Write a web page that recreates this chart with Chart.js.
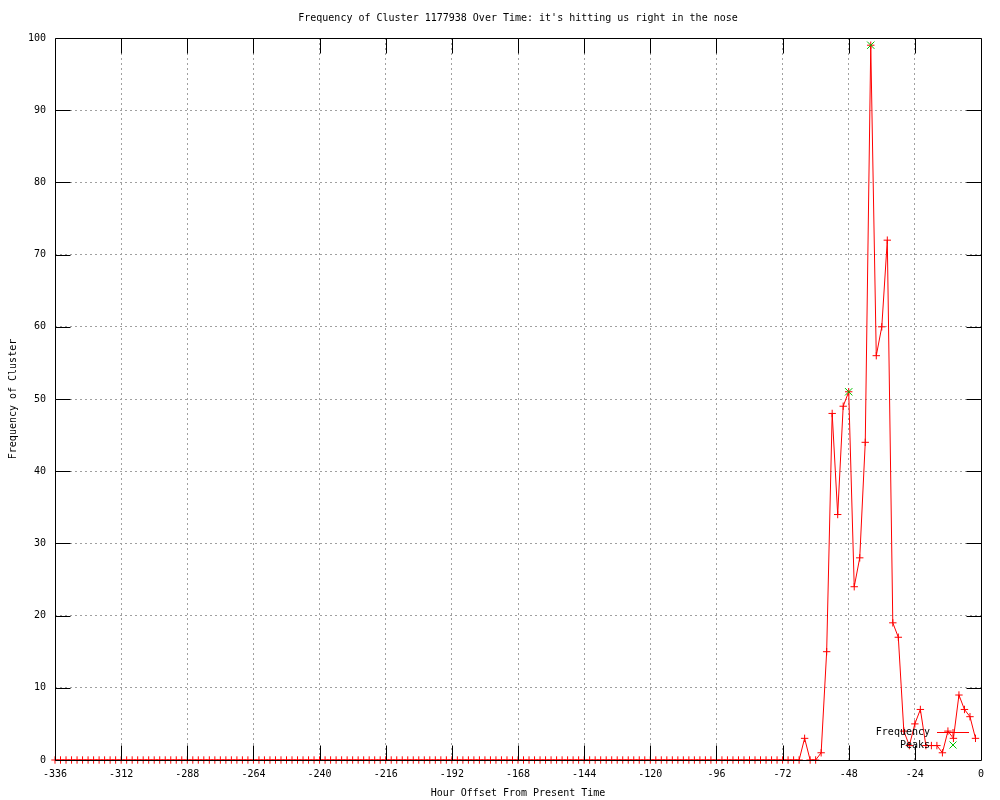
<!DOCTYPE html>
<html>
<head>
<meta charset="utf-8">
<script src="https://cdn.jsdelivr.net/npm/chart.js@4"></script>
<style>html,body{margin:0;padding:0;background:#fff}canvas{display:block}</style>
</head>
<body>
<canvas id="c" width="1000" height="800"></canvas>
<script>
/* cluster 1177938 — frequency per 2h bucket, last 14 days */
const hours = [
  -336,-334,-332,-330,-328,-326,-324,-322,-320,-318,-316,-314,
  -312,-310,-308,-306,-304,-302,-300,-298,-296,-294,-292,-290,
  -288,-286,-284,-282,-280,-278,-276,-274,-272,-270,-268,-266,
  -264,-262,-260,-258,-256,-254,-252,-250,-248,-246,-244,-242,
  -240,-238,-236,-234,-232,-230,-228,-226,-224,-222,-220,-218,
  -216,-214,-212,-210,-208,-206,-204,-202,-200,-198,-196,-194,
  -192,-190,-188,-186,-184,-182,-180,-178,-176,-174,-172,-170,
  -168,-166,-164,-162,-160,-158,-156,-154,-152,-150,-148,-146,
  -144,-142,-140,-138,-136,-134,-132,-130,-128,-126,-124,-122,
  -120,-118,-116,-114,-112,-110,-108,-106,-104,-102,-100,-98,
  -96,-94,-92,-90,-88,-86,-84,-82,-80,-78,-76,-74,
  -72,-70,-68,-66,-64,-62,-60,-58,-56,-54,-52,-50,
  -48,-46,-44,-42,-40,-38,-36,-34,-32,-30,-28,-26,
  -24,-22,-20,-18,-16,-14,-12,-10,-8,-6,-4,-2
];
const frequency = [
  0,0,0,0,0,0,0,0,0,0,0,0,
  0,0,0,0,0,0,0,0,0,0,0,0,
  0,0,0,0,0,0,0,0,0,0,0,0,
  0,0,0,0,0,0,0,0,0,0,0,0,
  0,0,0,0,0,0,0,0,0,0,0,0,
  0,0,0,0,0,0,0,0,0,0,0,0,
  0,0,0,0,0,0,0,0,0,0,0,0,
  0,0,0,0,0,0,0,0,0,0,0,0,
  0,0,0,0,0,0,0,0,0,0,0,0,
  0,0,0,0,0,0,0,0,0,0,0,0,
  0,0,0,0,0,0,0,0,0,0,0,0,
  0,0,0,0,3,0,0,1,15,48,34,49,
  51,24,28,44,99,56,60,72,19,17,4,2,
  5,7,2,2,2,1,4,3,9,7,6,3
];
const peakHours = [-48, -40];
const peakValues = [51, 99];

const FONT = '"DejaVu Sans Mono", "Liberation Mono", monospace';
const RED = '#ff0000', GREEN = '#00c000';

// gnuplot-ish frame: border, inward ticks on all sides, key inside bottom right
const frame = {
  id: 'frame',
  afterDatasetsDraw(chart) {
    const {ctx, chartArea: a, scales: {x, y}} = chart;
    const L = Math.round(a.left) + 0.5, R = Math.round(a.right) + 0.5;
    const T = Math.round(a.top) + 0.5, B = Math.round(a.bottom) + 0.5;
    const tl = 15;
    ctx.save();
    ctx.strokeStyle = '#000'; ctx.lineWidth = 1;
    ctx.beginPath();
    ctx.rect(L, T, R - L, B - T);
    x.ticks.forEach(t => {
      if (t.value <= x.min || t.value >= x.max) return;
      const px = Math.round(x.getPixelForValue(t.value)) + 0.5;
      ctx.moveTo(px, B); ctx.lineTo(px, B - tl);
      ctx.moveTo(px, T); ctx.lineTo(px, T + tl);
    });
    y.ticks.forEach(t => {
      if (t.value <= y.min || t.value >= y.max) return;
      const py = Math.round(y.getPixelForValue(t.value)) + 0.5;
      ctx.moveTo(L, py); ctx.lineTo(L + tl, py);
      ctx.moveTo(R, py); ctx.lineTo(R - tl, py);
    });
    ctx.stroke();

    // key
    const k1 = a.bottom - 27.5, k2 = a.bottom - 15;
    const tx = a.right - 51, sx = a.right - 28;
    ctx.font = '10px ' + FONT; ctx.fillStyle = '#000';
    ctx.textAlign = 'right'; ctx.textBaseline = 'middle';
    ctx.fillText('Frequency', tx, k1);
    ctx.fillText('Peaks', tx, k2);
    ctx.strokeStyle = RED;
    ctx.beginPath();
    ctx.moveTo(a.right - 44, k1); ctx.lineTo(a.right - 12, k1);
    ctx.moveTo(sx, k1 - 3.5); ctx.lineTo(sx, k1 + 3.5);
    ctx.stroke();
    ctx.strokeStyle = GREEN;
    ctx.beginPath();
    ctx.moveTo(sx - 3.5, k2 - 3.5); ctx.lineTo(sx + 3.5, k2 + 3.5);
    ctx.moveTo(sx - 3.5, k2 + 3.5); ctx.lineTo(sx + 3.5, k2 - 3.5);
    ctx.stroke();
    ctx.restore();
  }
};

new Chart(document.getElementById('c'), {
  type: 'line',
  data: {
    datasets: [{
      label: 'Peaks',
      data: peakHours.map((h, i) => ({x: h, y: peakValues[i]})),
      showLine: false,
      pointStyle: 'crossRot', pointRadius: 5.2,
      pointBorderColor: GREEN, pointBorderWidth: 1,
      borderColor: GREEN, backgroundColor: GREEN,
      clip: false
    }, {
      label: 'Frequency',
      data: hours.map((h, i) => ({x: h, y: frequency[i]})),
      borderColor: RED, borderWidth: 1, tension: 0,
      pointStyle: 'cross', pointRadius: 3.7,
      pointBorderColor: RED, pointBorderWidth: 1,
      backgroundColor: RED,
      clip: false
    }]
  },
  options: {
    responsive: false, animation: false, events: [],
    layout: {padding: {left: 0, right: 19, top: 0, bottom: 0}},
    plugins: {
      legend: {display: false}, tooltip: {enabled: false},
      title: {
        display: true, fullSize: false, color: '#000',
        text: "Frequency of Cluster 1177938 Over Time: it's hitting us right in the nose",
        font: {family: FONT, size: 10, weight: 'normal', lineHeight: 1.2},
        padding: {top: 12, bottom: 14}
      }
    },
    scales: {
      x: {
        type: 'linear', min: -336, max: 0,
        afterFit: s => { s.height = 40; },
        ticks: {stepSize: 24, color: '#000', padding: 8, maxRotation: 0, autoSkip: false,
          font: {family: FONT, size: 10}, callback: v => String(v)},
        grid: {color: '#a0a0a0', lineWidth: 1, drawTicks: false},
        border: {display: false, dash: [2, 3]},
        title: {display: true, text: 'Hour Offset From Present Time', color: '#000',
          font: {family: FONT, size: 10, lineHeight: 1.2}, padding: {top: 0, bottom: 1}}
      },
      y: {
        min: 0, max: 100,
        afterFit: s => { s.width = 55; },
        ticks: {stepSize: 10, color: '#000', padding: 9, font: {family: FONT, size: 10}},
        grid: {color: '#a0a0a0', lineWidth: 1, drawTicks: false},
        border: {display: false, dash: [2, 3]},
        title: {display: true, text: 'Frequency of Cluster', color: '#000',
          font: {family: FONT, size: 10, lineHeight: 1.2}, padding: {top: 7, bottom: 0}}
      }
    }
  },
  plugins: [frame]
});
</script>
</body>
</html>
